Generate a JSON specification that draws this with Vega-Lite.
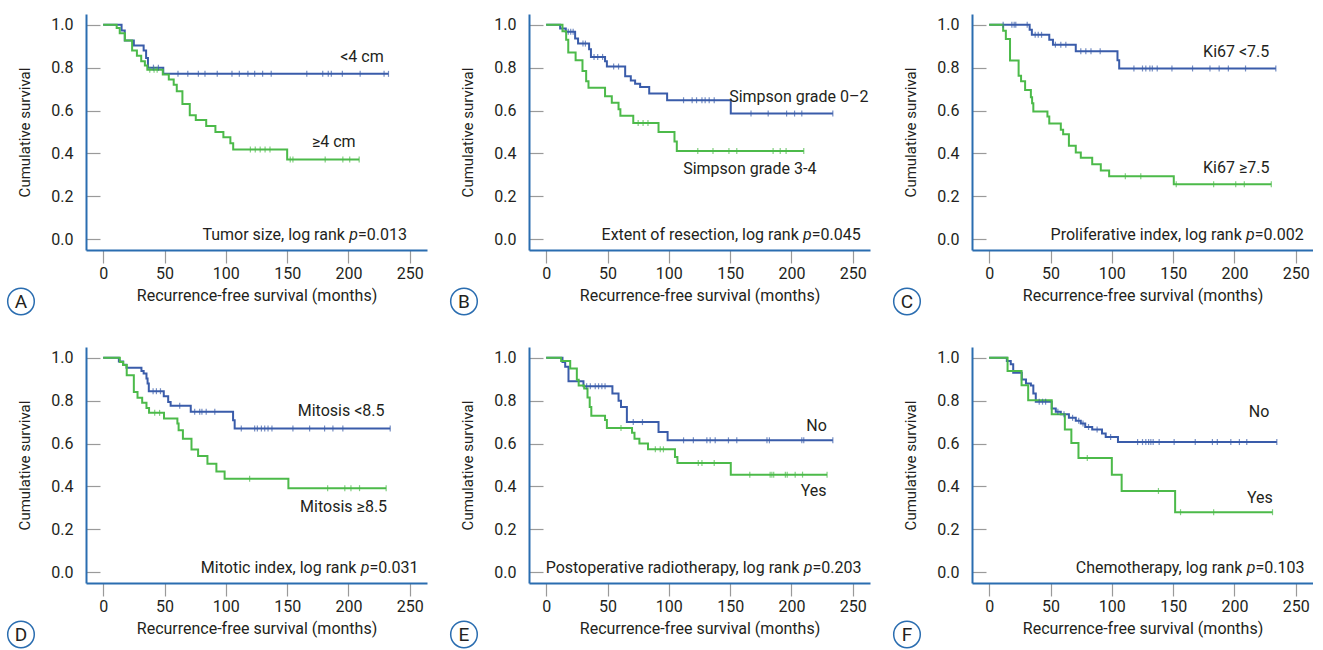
{
"$schema":"https://vega.github.io/schema/vega-lite/v6.json",
"padding":{"left":4,"top":14,"right":0,"bottom":0},
"background":"white",
"config":{
 "font":"Roboto",
 "view":{"stroke":null},
 "axis":{"grid":false,"domainColor":"#2a6db0","domainWidth":2,"tickColor":"#9a9a9a","tickWidth":1.2,"labelFontSize":16,"labelColor":"#231f20","titleFontSize":16,"titleFontWeight":"normal","titleColor":"#231f20","labelFont":"Roboto","titleFont":"Roboto","labelFlush":false},
 "axisX":{"tickSize":13,"labelPadding":2,"titlePadding":6},
 "axisY":{"tickSize":-14,"labelPadding":27,"titlePadding":18,"titleFontSize":15},
 "text":{"fontSize":16,"color":"#231f20","font":"Roboto"}
},
"datasets":{"km":[
{"p":"A","g":"b","t":0,"s":1,"c":0},{"p":"A","g":"b","t":15,"s":0.973,"c":0},{"p":"A","g":"b","t":17.6,"s":0.927,"c":0},{"p":"A","g":"b","t":25,"s":0.903,"c":0},{"p":"A","g":"b","t":33,"s":0.88,"c":0},{"p":"A","g":"b","t":35,"s":0.845,"c":0},{"p":"A","g":"b","t":36.5,"s":0.8,"c":0},{"p":"A","g":"b","t":41,"s":0.8,"c":1},{"p":"A","g":"b","t":45,"s":0.8,"c":1},{"p":"A","g":"b","t":49,"s":0.771,"c":0},
{"p":"A","g":"b","t":61,"s":0.771,"c":1},{"p":"A","g":"b","t":69,"s":0.771,"c":1},{"p":"A","g":"b","t":77.6,"s":0.771,"c":1},{"p":"A","g":"b","t":83,"s":0.771,"c":1},{"p":"A","g":"b","t":93,"s":0.771,"c":1},{"p":"A","g":"b","t":105,"s":0.771,"c":1},{"p":"A","g":"b","t":111,"s":0.771,"c":1},{"p":"A","g":"b","t":118,"s":0.771,"c":1},{"p":"A","g":"b","t":123.5,"s":0.771,"c":1},{"p":"A","g":"b","t":130,"s":0.771,"c":1},{"p":"A","g":"b","t":137,"s":0.771,"c":1},{"p":"A","g":"b","t":166,"s":0.771,"c":1},{"p":"A","g":"b","t":179,"s":0.771,"c":1},{"p":"A","g":"b","t":183.5,"s":0.771,"c":1},{"p":"A","g":"b","t":186,"s":0.771,"c":1},{"p":"A","g":"b","t":195,"s":0.771,"c":1},{"p":"A","g":"b","t":209.5,"s":0.771,"c":1},{"p":"A","g":"b","t":229,"s":0.771,"c":1},{"p":"A","g":"b","t":232.6,"s":0.771,"c":1},
{"p":"A","g":"g","t":0,"s":1,"c":0},{"p":"A","g":"g","t":11,"s":0.985,"c":0},{"p":"A","g":"g","t":13.5,"s":0.96,"c":0},{"p":"A","g":"g","t":17.7,"s":0.927,"c":0},{"p":"A","g":"g","t":23.6,"s":0.88,"c":0},{"p":"A","g":"g","t":27.5,"s":0.855,"c":0},{"p":"A","g":"g","t":31,"s":0.83,"c":0},{"p":"A","g":"g","t":34,"s":0.81,"c":0},{"p":"A","g":"g","t":36,"s":0.79,"c":0},{"p":"A","g":"g","t":38,"s":0.79,"c":1},{"p":"A","g":"g","t":41.5,"s":0.79,"c":1},{"p":"A","g":"g","t":44,"s":0.79,"c":1},{"p":"A","g":"g","t":48.6,"s":0.768,"c":0},{"p":"A","g":"g","t":53.5,"s":0.745,"c":0},{"p":"A","g":"g","t":57.5,"s":0.72,"c":0},{"p":"A","g":"g","t":60,"s":0.69,"c":0},{"p":"A","g":"g","t":64.6,"s":0.63,"c":0},{"p":"A","g":"g","t":70.6,"s":0.578,"c":0},{"p":"A","g":"g","t":75.5,"s":0.556,"c":0},{"p":"A","g":"g","t":84,"s":0.528,"c":0},{"p":"A","g":"g","t":91.5,"s":0.5,"c":0},{"p":"A","g":"g","t":98,"s":0.475,"c":0},{"p":"A","g":"g","t":103.7,"s":0.447,"c":0},{"p":"A","g":"g","t":106,"s":0.419,"c":0},{"p":"A","g":"g","t":120,"s":0.419,"c":1},{"p":"A","g":"g","t":124,"s":0.419,"c":1},{"p":"A","g":"g","t":128,"s":0.419,"c":1},{"p":"A","g":"g","t":132,"s":0.419,"c":1},{"p":"A","g":"g","t":136,"s":0.419,"c":1},{"p":"A","g":"g","t":150,"s":0.372,"c":0},{"p":"A","g":"g","t":152.5,"s":0.372,"c":1},{"p":"A","g":"g","t":154.7,"s":0.372,"c":1},{"p":"A","g":"g","t":181,"s":0.372,"c":1},{"p":"A","g":"g","t":195.4,"s":0.372,"c":1},{"p":"A","g":"g","t":201,"s":0.372,"c":1},{"p":"A","g":"g","t":208.7,"s":0.372,"c":1},
{"p":"B","g":"b","t":0,"s":1,"c":0},{"p":"B","g":"b","t":11.4,"s":0.983,"c":0},{"p":"B","g":"b","t":16,"s":0.967,"c":0},{"p":"B","g":"b","t":18,"s":0.967,"c":1},{"p":"B","g":"b","t":20,"s":0.967,"c":1},{"p":"B","g":"b","t":22,"s":0.967,"c":1},{"p":"B","g":"b","t":23.6,"s":0.936,"c":0},{"p":"B","g":"b","t":26,"s":0.912,"c":0},{"p":"B","g":"b","t":30,"s":0.912,"c":1},{"p":"B","g":"b","t":32,"s":0.912,"c":1},{"p":"B","g":"b","t":35,"s":0.886,"c":0},{"p":"B","g":"b","t":36.5,"s":0.85,"c":0},{"p":"B","g":"b","t":39,"s":0.85,"c":1},{"p":"B","g":"b","t":42,"s":0.85,"c":1},{"p":"B","g":"b","t":46,"s":0.85,"c":1},{"p":"B","g":"b","t":48,"s":0.83,"c":0},{"p":"B","g":"b","t":49.5,"s":0.805,"c":0},{"p":"B","g":"b","t":55,"s":0.805,"c":1},{"p":"B","g":"b","t":59,"s":0.805,"c":1},{"p":"B","g":"b","t":64.4,"s":0.76,"c":0},{"p":"B","g":"b","t":69,"s":0.74,"c":0},{"p":"B","g":"b","t":72.5,"s":0.725,"c":0},{"p":"B","g":"b","t":76.6,"s":0.71,"c":0},{"p":"B","g":"b","t":84,"s":0.68,"c":0},{"p":"B","g":"b","t":98.6,"s":0.648,"c":0},{"p":"B","g":"b","t":112,"s":0.648,"c":1},{"p":"B","g":"b","t":119,"s":0.648,"c":1},{"p":"B","g":"b","t":122.6,"s":0.648,"c":1},{"p":"B","g":"b","t":127,"s":0.648,"c":1},{"p":"B","g":"b","t":129.6,"s":0.648,"c":1},{"p":"B","g":"b","t":132.9,"s":0.648,"c":1},{"p":"B","g":"b","t":137,"s":0.648,"c":1},{"p":"B","g":"b","t":150.5,"s":0.586,"c":0},{"p":"B","g":"b","t":167,"s":0.586,"c":1},{"p":"B","g":"b","t":181,"s":0.586,"c":1},{"p":"B","g":"b","t":196,"s":0.586,"c":1},{"p":"B","g":"b","t":202.5,"s":0.586,"c":1},{"p":"B","g":"b","t":208.4,"s":0.586,"c":1},{"p":"B","g":"b","t":233.7,"s":0.586,"c":1},
{"p":"B","g":"g","t":0,"s":1,"c":0},{"p":"B","g":"g","t":13.3,"s":0.97,"c":0},{"p":"B","g":"g","t":16.3,"s":0.93,"c":0},{"p":"B","g":"g","t":18,"s":0.87,"c":0},{"p":"B","g":"g","t":24,"s":0.834,"c":0},{"p":"B","g":"g","t":29.6,"s":0.784,"c":0},{"p":"B","g":"g","t":32.6,"s":0.737,"c":0},{"p":"B","g":"g","t":34.5,"s":0.706,"c":0},{"p":"B","g":"g","t":48,"s":0.667,"c":0},{"p":"B","g":"g","t":53.5,"s":0.636,"c":0},{"p":"B","g":"g","t":59,"s":0.606,"c":0},{"p":"B","g":"g","t":60.5,"s":0.576,"c":0},{"p":"B","g":"g","t":71,"s":0.542,"c":0},{"p":"B","g":"g","t":75,"s":0.542,"c":1},{"p":"B","g":"g","t":79,"s":0.542,"c":1},{"p":"B","g":"g","t":83,"s":0.542,"c":1},{"p":"B","g":"g","t":91.6,"s":0.5,"c":0},{"p":"B","g":"g","t":104.6,"s":0.456,"c":0},{"p":"B","g":"g","t":106.5,"s":0.412,"c":0},{"p":"B","g":"g","t":123.6,"s":0.412,"c":1},{"p":"B","g":"g","t":136,"s":0.412,"c":1},{"p":"B","g":"g","t":149,"s":0.412,"c":1},{"p":"B","g":"g","t":155.4,"s":0.412,"c":1},{"p":"B","g":"g","t":185,"s":0.412,"c":1},{"p":"B","g":"g","t":190.8,"s":0.412,"c":1},{"p":"B","g":"g","t":195.6,"s":0.412,"c":1},{"p":"B","g":"g","t":210,"s":0.412,"c":1},
{"p":"C","g":"b","t":0,"s":1,"c":0},{"p":"C","g":"b","t":11.4,"s":1,"c":1},{"p":"C","g":"b","t":18.5,"s":1,"c":1},{"p":"C","g":"b","t":20.4,"s":1,"c":1},{"p":"C","g":"b","t":21.7,"s":1,"c":1},{"p":"C","g":"b","t":31,"s":1,"c":1},{"p":"C","g":"b","t":33,"s":0.977,"c":0},{"p":"C","g":"b","t":34.8,"s":0.953,"c":0},{"p":"C","g":"b","t":37.5,"s":0.953,"c":1},{"p":"C","g":"b","t":40,"s":0.953,"c":1},{"p":"C","g":"b","t":42.7,"s":0.953,"c":1},{"p":"C","g":"b","t":49,"s":0.93,"c":0},{"p":"C","g":"b","t":52,"s":0.907,"c":0},{"p":"C","g":"b","t":54,"s":0.907,"c":1},{"p":"C","g":"b","t":58.4,"s":0.907,"c":1},{"p":"C","g":"b","t":62.5,"s":0.907,"c":1},{"p":"C","g":"b","t":70.6,"s":0.876,"c":0},{"p":"C","g":"b","t":74.7,"s":0.876,"c":1},{"p":"C","g":"b","t":78.8,"s":0.876,"c":1},{"p":"C","g":"b","t":83,"s":0.876,"c":1},{"p":"C","g":"b","t":90.5,"s":0.876,"c":1},{"p":"C","g":"b","t":104.6,"s":0.834,"c":0},{"p":"C","g":"b","t":106,"s":0.796,"c":0},{"p":"C","g":"b","t":118,"s":0.796,"c":1},{"p":"C","g":"b","t":125,"s":0.796,"c":1},{"p":"C","g":"b","t":127.7,"s":0.796,"c":1},{"p":"C","g":"b","t":131,"s":0.796,"c":1},{"p":"C","g":"b","t":133,"s":0.796,"c":1},{"p":"C","g":"b","t":137,"s":0.796,"c":1},{"p":"C","g":"b","t":149,"s":0.796,"c":1},{"p":"C","g":"b","t":165.8,"s":0.796,"c":1},{"p":"C","g":"b","t":180,"s":0.796,"c":1},{"p":"C","g":"b","t":187.5,"s":0.796,"c":1},{"p":"C","g":"b","t":195,"s":0.796,"c":1},{"p":"C","g":"b","t":209,"s":0.796,"c":1},{"p":"C","g":"b","t":233.7,"s":0.796,"c":1},
{"p":"C","g":"g","t":0,"s":1,"c":0},{"p":"C","g":"g","t":11.4,"s":0.972,"c":0},{"p":"C","g":"g","t":13.6,"s":0.933,"c":0},{"p":"C","g":"g","t":17,"s":0.833,"c":0},{"p":"C","g":"g","t":24,"s":0.762,"c":0},{"p":"C","g":"g","t":26,"s":0.736,"c":0},{"p":"C","g":"g","t":29.3,"s":0.696,"c":0},{"p":"C","g":"g","t":34,"s":0.662,"c":0},{"p":"C","g":"g","t":35,"s":0.634,"c":0},{"p":"C","g":"g","t":36,"s":0.595,"c":0},{"p":"C","g":"g","t":47.5,"s":0.572,"c":0},{"p":"C","g":"g","t":49,"s":0.54,"c":0},{"p":"C","g":"g","t":58.4,"s":0.51,"c":0},{"p":"C","g":"g","t":60.3,"s":0.49,"c":0},{"p":"C","g":"g","t":65,"s":0.436,"c":0},{"p":"C","g":"g","t":70.6,"s":0.405,"c":0},{"p":"C","g":"g","t":74.7,"s":0.38,"c":0},{"p":"C","g":"g","t":84,"s":0.35,"c":0},{"p":"C","g":"g","t":91,"s":0.32,"c":0},{"p":"C","g":"g","t":97.8,"s":0.294,"c":0},{"p":"C","g":"g","t":111,"s":0.294,"c":1},{"p":"C","g":"g","t":123.6,"s":0.294,"c":1},{"p":"C","g":"g","t":150.5,"s":0.256,"c":0},{"p":"C","g":"g","t":152.5,"s":0.256,"c":1},{"p":"C","g":"g","t":183,"s":0.256,"c":1},{"p":"C","g":"g","t":201,"s":0.256,"c":1},{"p":"C","g":"g","t":208,"s":0.256,"c":1},{"p":"C","g":"g","t":230,"s":0.256,"c":1},
{"p":"D","g":"b","t":0,"s":1,"c":0},{"p":"D","g":"b","t":12.8,"s":0.983,"c":0},{"p":"D","g":"b","t":16.3,"s":0.967,"c":0},{"p":"D","g":"b","t":19,"s":0.953,"c":0},{"p":"D","g":"b","t":31.2,"s":0.938,"c":0},{"p":"D","g":"b","t":33,"s":0.927,"c":0},{"p":"D","g":"b","t":35.3,"s":0.903,"c":0},{"p":"D","g":"b","t":36.2,"s":0.88,"c":0},{"p":"D","g":"b","t":37.2,"s":0.844,"c":0},{"p":"D","g":"b","t":40.7,"s":0.844,"c":1},{"p":"D","g":"b","t":43.4,"s":0.844,"c":1},{"p":"D","g":"b","t":46.7,"s":0.844,"c":1},{"p":"D","g":"b","t":49.4,"s":0.821,"c":0},{"p":"D","g":"b","t":53,"s":0.794,"c":0},{"p":"D","g":"b","t":55,"s":0.776,"c":0},{"p":"D","g":"b","t":62.4,"s":0.776,"c":1},{"p":"D","g":"b","t":71.4,"s":0.748,"c":0},{"p":"D","g":"b","t":74.6,"s":0.748,"c":1},{"p":"D","g":"b","t":78.7,"s":0.748,"c":1},{"p":"D","g":"b","t":80.5,"s":0.748,"c":1},{"p":"D","g":"b","t":84,"s":0.748,"c":1},{"p":"D","g":"b","t":91,"s":0.748,"c":1},{"p":"D","g":"b","t":105.9,"s":0.709,"c":0},{"p":"D","g":"b","t":107.2,"s":0.67,"c":0},{"p":"D","g":"b","t":112.6,"s":0.67,"c":1},{"p":"D","g":"b","t":123.5,"s":0.67,"c":1},{"p":"D","g":"b","t":125.7,"s":0.67,"c":1},{"p":"D","g":"b","t":129,"s":0.67,"c":1},{"p":"D","g":"b","t":131.7,"s":0.67,"c":1},{"p":"D","g":"b","t":134.4,"s":0.67,"c":1},{"p":"D","g":"b","t":137.6,"s":0.67,"c":1},{"p":"D","g":"b","t":154.7,"s":0.67,"c":1},{"p":"D","g":"b","t":168.3,"s":0.67,"c":1},{"p":"D","g":"b","t":180.5,"s":0.67,"c":1},{"p":"D","g":"b","t":187.3,"s":0.67,"c":1},{"p":"D","g":"b","t":195.4,"s":0.67,"c":1},{"p":"D","g":"b","t":234,"s":0.67,"c":1},
{"p":"D","g":"g","t":0,"s":1,"c":0},{"p":"D","g":"g","t":13.6,"s":0.98,"c":0},{"p":"D","g":"g","t":16.3,"s":0.966,"c":0},{"p":"D","g":"g","t":19.2,"s":0.918,"c":0},{"p":"D","g":"g","t":25,"s":0.84,"c":0},{"p":"D","g":"g","t":28,"s":0.814,"c":0},{"p":"D","g":"g","t":31.8,"s":0.79,"c":0},{"p":"D","g":"g","t":35.3,"s":0.766,"c":0},{"p":"D","g":"g","t":37.4,"s":0.743,"c":0},{"p":"D","g":"g","t":42,"s":0.743,"c":1},{"p":"D","g":"g","t":46,"s":0.743,"c":1},{"p":"D","g":"g","t":49.6,"s":0.717,"c":0},{"p":"D","g":"g","t":60.5,"s":0.693,"c":0},{"p":"D","g":"g","t":61.5,"s":0.662,"c":0},{"p":"D","g":"g","t":65,"s":0.622,"c":0},{"p":"D","g":"g","t":72,"s":0.572,"c":0},{"p":"D","g":"g","t":77.4,"s":0.542,"c":0},{"p":"D","g":"g","t":85,"s":0.506,"c":0},{"p":"D","g":"g","t":92.3,"s":0.47,"c":0},{"p":"D","g":"g","t":99,"s":0.436,"c":0},{"p":"D","g":"g","t":119.4,"s":0.436,"c":1},{"p":"D","g":"g","t":151,"s":0.392,"c":0},{"p":"D","g":"g","t":183,"s":0.392,"c":1},{"p":"D","g":"g","t":197,"s":0.392,"c":1},{"p":"D","g":"g","t":202,"s":0.392,"c":1},{"p":"D","g":"g","t":209,"s":0.392,"c":1},{"p":"D","g":"g","t":230.7,"s":0.392,"c":1},
{"p":"E","g":"b","t":0,"s":1,"c":0},{"p":"E","g":"b","t":13.3,"s":0.98,"c":0},{"p":"E","g":"b","t":15.5,"s":0.958,"c":0},{"p":"E","g":"b","t":18.2,"s":0.89,"c":0},{"p":"E","g":"b","t":30.4,"s":0.867,"c":0},{"p":"E","g":"b","t":33,"s":0.867,"c":1},{"p":"E","g":"b","t":36,"s":0.867,"c":1},{"p":"E","g":"b","t":40,"s":0.867,"c":1},{"p":"E","g":"b","t":42.7,"s":0.867,"c":1},{"p":"E","g":"b","t":45.4,"s":0.867,"c":1},{"p":"E","g":"b","t":48,"s":0.867,"c":1},{"p":"E","g":"b","t":54,"s":0.833,"c":0},{"p":"E","g":"b","t":59,"s":0.8,"c":0},{"p":"E","g":"b","t":61,"s":0.77,"c":0},{"p":"E","g":"b","t":65.8,"s":0.7,"c":0},{"p":"E","g":"b","t":71,"s":0.7,"c":1},{"p":"E","g":"b","t":78.5,"s":0.7,"c":1},{"p":"E","g":"b","t":91.6,"s":0.654,"c":0},{"p":"E","g":"b","t":99,"s":0.615,"c":0},{"p":"E","g":"b","t":112,"s":0.615,"c":1},{"p":"E","g":"b","t":120,"s":0.615,"c":1},{"p":"E","g":"b","t":131,"s":0.615,"c":1},{"p":"E","g":"b","t":133.7,"s":0.615,"c":1},{"p":"E","g":"b","t":137.8,"s":0.615,"c":1},{"p":"E","g":"b","t":148.6,"s":0.615,"c":1},{"p":"E","g":"b","t":155.4,"s":0.615,"c":1},{"p":"E","g":"b","t":180,"s":0.615,"c":1},{"p":"E","g":"b","t":182,"s":0.615,"c":1},{"p":"E","g":"b","t":208.4,"s":0.615,"c":1},{"p":"E","g":"b","t":210,"s":0.615,"c":1},{"p":"E","g":"b","t":233.7,"s":0.615,"c":1},
{"p":"E","g":"g","t":0,"s":1,"c":0},{"p":"E","g":"g","t":12.2,"s":0.985,"c":0},{"p":"E","g":"g","t":19.6,"s":0.95,"c":0},{"p":"E","g":"g","t":25,"s":0.897,"c":0},{"p":"E","g":"g","t":26.5,"s":0.87,"c":0},{"p":"E","g":"g","t":31,"s":0.857,"c":0},{"p":"E","g":"g","t":33.7,"s":0.815,"c":0},{"p":"E","g":"g","t":35.5,"s":0.77,"c":0},{"p":"E","g":"g","t":36.8,"s":0.73,"c":0},{"p":"E","g":"g","t":48,"s":0.71,"c":0},{"p":"E","g":"g","t":49.5,"s":0.672,"c":0},{"p":"E","g":"g","t":61,"s":0.672,"c":1},{"p":"E","g":"g","t":70,"s":0.65,"c":0},{"p":"E","g":"g","t":72,"s":0.622,"c":0},{"p":"E","g":"g","t":76,"s":0.6,"c":0},{"p":"E","g":"g","t":83,"s":0.573,"c":0},{"p":"E","g":"g","t":89,"s":0.573,"c":1},{"p":"E","g":"g","t":93,"s":0.573,"c":1},{"p":"E","g":"g","t":95.6,"s":0.573,"c":1},{"p":"E","g":"g","t":105,"s":0.537,"c":0},{"p":"E","g":"g","t":107,"s":0.509,"c":0},{"p":"E","g":"g","t":124,"s":0.509,"c":1},{"p":"E","g":"g","t":127,"s":0.509,"c":1},{"p":"E","g":"g","t":137,"s":0.509,"c":1},{"p":"E","g":"g","t":150.5,"s":0.455,"c":0},{"p":"E","g":"g","t":166,"s":0.455,"c":1},{"p":"E","g":"g","t":182.6,"s":0.455,"c":1},{"p":"E","g":"g","t":184,"s":0.455,"c":1},{"p":"E","g":"g","t":185.5,"s":0.455,"c":1},{"p":"E","g":"g","t":195,"s":0.455,"c":1},{"p":"E","g":"g","t":196.5,"s":0.455,"c":1},{"p":"E","g":"g","t":203,"s":0.455,"c":1},{"p":"E","g":"g","t":209,"s":0.455,"c":1},{"p":"E","g":"g","t":229,"s":0.455,"c":1},
{"p":"F","g":"b","t":0,"s":1,"c":0},{"p":"F","g":"b","t":14.4,"s":0.985,"c":0},{"p":"F","g":"b","t":17.6,"s":0.97,"c":0},{"p":"F","g":"b","t":19.6,"s":0.93,"c":0},{"p":"F","g":"b","t":26.6,"s":0.898,"c":0},{"p":"F","g":"b","t":30,"s":0.88,"c":0},{"p":"F","g":"b","t":34,"s":0.87,"c":0},{"p":"F","g":"b","t":36,"s":0.833,"c":0},{"p":"F","g":"b","t":38,"s":0.795,"c":0},{"p":"F","g":"b","t":40.8,"s":0.795,"c":1},{"p":"F","g":"b","t":43.5,"s":0.795,"c":1},{"p":"F","g":"b","t":46,"s":0.795,"c":1},{"p":"F","g":"b","t":51,"s":0.763,"c":0},{"p":"F","g":"b","t":54.3,"s":0.748,"c":0},{"p":"F","g":"b","t":56,"s":0.748,"c":1},{"p":"F","g":"b","t":58.4,"s":0.737,"c":0},{"p":"F","g":"b","t":61,"s":0.737,"c":1},{"p":"F","g":"b","t":65,"s":0.72,"c":0},{"p":"F","g":"b","t":68,"s":0.72,"c":1},{"p":"F","g":"b","t":70.6,"s":0.706,"c":0},{"p":"F","g":"b","t":73,"s":0.706,"c":1},{"p":"F","g":"b","t":74.7,"s":0.693,"c":0},{"p":"F","g":"b","t":76.5,"s":0.693,"c":1},{"p":"F","g":"b","t":78.3,"s":0.677,"c":0},{"p":"F","g":"b","t":81,"s":0.677,"c":1},{"p":"F","g":"b","t":84,"s":0.665,"c":0},{"p":"F","g":"b","t":88,"s":0.665,"c":1},{"p":"F","g":"b","t":92,"s":0.647,"c":0},{"p":"F","g":"b","t":95,"s":0.63,"c":0},{"p":"F","g":"b","t":99,"s":0.63,"c":1},{"p":"F","g":"b","t":105,"s":0.607,"c":0},{"p":"F","g":"b","t":121,"s":0.607,"c":1},{"p":"F","g":"b","t":125,"s":0.607,"c":1},{"p":"F","g":"b","t":127.7,"s":0.607,"c":1},{"p":"F","g":"b","t":130,"s":0.607,"c":1},{"p":"F","g":"b","t":131.8,"s":0.607,"c":1},{"p":"F","g":"b","t":133.7,"s":0.607,"c":1},{"p":"F","g":"b","t":138.6,"s":0.607,"c":1},{"p":"F","g":"b","t":150.8,"s":0.607,"c":1},{"p":"F","g":"b","t":168,"s":0.607,"c":1},{"p":"F","g":"b","t":182,"s":0.607,"c":1},{"p":"F","g":"b","t":186,"s":0.607,"c":1},{"p":"F","g":"b","t":197,"s":0.607,"c":1},{"p":"F","g":"b","t":204,"s":0.607,"c":1},{"p":"F","g":"b","t":210,"s":0.607,"c":1},{"p":"F","g":"b","t":234.5,"s":0.607,"c":1},
{"p":"F","g":"g","t":0,"s":1,"c":0},{"p":"F","g":"g","t":15,"s":0.938,"c":0},{"p":"F","g":"g","t":26.4,"s":0.872,"c":0},{"p":"F","g":"g","t":31.8,"s":0.802,"c":0},{"p":"F","g":"g","t":51,"s":0.737,"c":0},{"p":"F","g":"g","t":61.7,"s":0.665,"c":0},{"p":"F","g":"g","t":67,"s":0.602,"c":0},{"p":"F","g":"g","t":72.8,"s":0.533,"c":0},{"p":"F","g":"g","t":80,"s":0.533,"c":1},{"p":"F","g":"g","t":100,"s":0.455,"c":0},{"p":"F","g":"g","t":108,"s":0.379,"c":0},{"p":"F","g":"g","t":138,"s":0.379,"c":1},{"p":"F","g":"g","t":151.6,"s":0.28,"c":0},{"p":"F","g":"g","t":156,"s":0.28,"c":1},{"p":"F","g":"g","t":183,"s":0.28,"c":1},{"p":"F","g":"g","t":231,"s":0.28,"c":1}
]},
"columns":3,
"spacing":{"row":29,"column":20},
"concat":[
{"width":341,"height":236,"data":{"name":"km"},"transform":[{"filter":"datum.p==='A'"}],"layer":[
 {"mark":{"type":"line","interpolate":"step-after","strokeWidth":2},"encoding":{"x":{"field":"t","type":"quantitative","scale":{"domain":[-14,264],"nice":false,"zero":false},"axis":{"values":[0,50,100,150,200,250]},"title":"Recurrence-free survival (months)"},"y":{"field":"s","type":"quantitative","scale":{"domain":[-0.05,1.05],"nice":false,"zero":false},"axis":{"values":[0,0.2,0.4,0.6,0.8,1],"format":".1f"},"title":"Cumulative survival"},"color":{"field":"g","type":"nominal","scale":{"domain":["b","g"],"range":["#3a5caa","#4cba4a"]},"legend":null}}},
 {"transform":[{"filter":"datum.c===1"}],"mark":{"type":"tick","orient":"vertical","size":6,"thickness":1.2},"encoding":{"x":{"field":"t","type":"quantitative"},"y":{"field":"s","type":"quantitative"},"color":{"field":"g","type":"nominal","legend":null}}},
 {"data":{"values":[{}]},"mark":{"type":"text","align":"center","baseline":"middle"},"encoding":{"x":{"datum":211},"y":{"datum":0.849},"text":{"value":"<4 cm"}}},
 {"data":{"values":[{}]},"mark":{"type":"text","align":"center","baseline":"middle"},"encoding":{"x":{"datum":188},"y":{"datum":0.455},"text":{"value":"≥4 cm"}}},
 {"data":{"values":[{}]},"mark":{"type":"text","align":"right","baseline":"middle"},"encoding":{"x":{"datum":247.6},"y":{"datum":0.022},"text":{"value":"=0.013"}}},
 {"data":{"values":[{}]},"mark":{"type":"text","align":"right","baseline":"middle","fontStyle":"italic","dx":-49},"encoding":{"x":{"datum":247.6},"y":{"datum":0.022},"text":{"value":"p"}}},
 {"data":{"values":[{}]},"mark":{"type":"text","align":"right","baseline":"middle","dx":-62},"encoding":{"x":{"datum":247.6},"y":{"datum":0.022},"text":{"value":"Tumor size, log rank"}}},
 {"data":{"values":[{}]},"mark":{"type":"point","shape":"circle","size":707,"stroke":"#2a6db0","strokeWidth":1.5,"fill":"white","filled":false,"opacity":1},"encoding":{"x":{"datum":-67},"y":{"datum":-0.29}}},
 {"data":{"values":[{}]},"mark":{"type":"text","align":"center","baseline":"middle","fontSize":19,"dy":1},"encoding":{"x":{"datum":-67},"y":{"datum":-0.29},"text":{"value":"A"}}}
]},
{"width":341,"height":236,"data":{"name":"km"},"transform":[{"filter":"datum.p==='B'"}],"layer":[
 {"mark":{"type":"line","interpolate":"step-after","strokeWidth":2},"encoding":{"x":{"field":"t","type":"quantitative","scale":{"domain":[-14,264],"nice":false,"zero":false},"axis":{"values":[0,50,100,150,200,250]},"title":"Recurrence-free survival (months)"},"y":{"field":"s","type":"quantitative","scale":{"domain":[-0.05,1.05],"nice":false,"zero":false},"axis":{"values":[0,0.2,0.4,0.6,0.8,1],"format":".1f"},"title":"Cumulative survival"},"color":{"field":"g","type":"nominal","scale":{"domain":["b","g"],"range":["#3a5caa","#4cba4a"]},"legend":null}}},
 {"transform":[{"filter":"datum.c===1"}],"mark":{"type":"tick","orient":"vertical","size":6,"thickness":1.2},"encoding":{"x":{"field":"t","type":"quantitative"},"y":{"field":"s","type":"quantitative"},"color":{"field":"g","type":"nominal","legend":null}}},
 {"data":{"values":[{}]},"mark":{"type":"text","align":"center","baseline":"middle"},"encoding":{"x":{"datum":206},"y":{"datum":0.662},"text":{"value":"Simpson grade 0–2"}}},
 {"data":{"values":[{}]},"mark":{"type":"text","align":"center","baseline":"middle"},"encoding":{"x":{"datum":166},"y":{"datum":0.326},"text":{"value":"Simpson grade 3-4"}}},
 {"data":{"values":[{}]},"mark":{"type":"text","align":"right","baseline":"middle"},"encoding":{"x":{"datum":256.5},"y":{"datum":0.022},"text":{"value":"=0.045"}}},
 {"data":{"values":[{}]},"mark":{"type":"text","align":"right","baseline":"middle","fontStyle":"italic","dx":-49},"encoding":{"x":{"datum":256.5},"y":{"datum":0.022},"text":{"value":"p"}}},
 {"data":{"values":[{}]},"mark":{"type":"text","align":"right","baseline":"middle","dx":-62},"encoding":{"x":{"datum":256.5},"y":{"datum":0.022},"text":{"value":"Extent of resection, log rank"}}},
 {"data":{"values":[{}]},"mark":{"type":"point","shape":"circle","size":707,"stroke":"#2a6db0","strokeWidth":1.5,"fill":"white","filled":false,"opacity":1},"encoding":{"x":{"datum":-67},"y":{"datum":-0.29}}},
 {"data":{"values":[{}]},"mark":{"type":"text","align":"center","baseline":"middle","fontSize":19,"dy":1},"encoding":{"x":{"datum":-67},"y":{"datum":-0.29},"text":{"value":"B"}}}
]},
{"width":341,"height":236,"data":{"name":"km"},"transform":[{"filter":"datum.p==='C'"}],"layer":[
 {"mark":{"type":"line","interpolate":"step-after","strokeWidth":2},"encoding":{"x":{"field":"t","type":"quantitative","scale":{"domain":[-14,264],"nice":false,"zero":false},"axis":{"values":[0,50,100,150,200,250]},"title":"Recurrence-free survival (months)"},"y":{"field":"s","type":"quantitative","scale":{"domain":[-0.05,1.05],"nice":false,"zero":false},"axis":{"values":[0,0.2,0.4,0.6,0.8,1],"format":".1f"},"title":"Cumulative survival"},"color":{"field":"g","type":"nominal","scale":{"domain":["b","g"],"range":["#3a5caa","#4cba4a"]},"legend":null}}},
 {"transform":[{"filter":"datum.c===1"}],"mark":{"type":"tick","orient":"vertical","size":6,"thickness":1.2},"encoding":{"x":{"field":"t","type":"quantitative"},"y":{"field":"s","type":"quantitative"},"color":{"field":"g","type":"nominal","legend":null}}},
 {"data":{"values":[{}]},"mark":{"type":"text","align":"center","baseline":"middle"},"encoding":{"x":{"datum":201.4},"y":{"datum":0.875},"text":{"value":"Ki67 <7.5"}}},
 {"data":{"values":[{}]},"mark":{"type":"text","align":"center","baseline":"middle"},"encoding":{"x":{"datum":201.4},"y":{"datum":0.333},"text":{"value":"Ki67 ≥7.5"}}},
 {"data":{"values":[{}]},"mark":{"type":"text","align":"right","baseline":"middle"},"encoding":{"x":{"datum":256.5},"y":{"datum":0.022},"text":{"value":"=0.002"}}},
 {"data":{"values":[{}]},"mark":{"type":"text","align":"right","baseline":"middle","fontStyle":"italic","dx":-49},"encoding":{"x":{"datum":256.5},"y":{"datum":0.022},"text":{"value":"p"}}},
 {"data":{"values":[{}]},"mark":{"type":"text","align":"right","baseline":"middle","dx":-62},"encoding":{"x":{"datum":256.5},"y":{"datum":0.022},"text":{"value":"Proliferative index, log rank"}}},
 {"data":{"values":[{}]},"mark":{"type":"point","shape":"circle","size":707,"stroke":"#2a6db0","strokeWidth":1.5,"fill":"white","filled":false,"opacity":1},"encoding":{"x":{"datum":-67},"y":{"datum":-0.29}}},
 {"data":{"values":[{}]},"mark":{"type":"text","align":"center","baseline":"middle","fontSize":19,"dy":1},"encoding":{"x":{"datum":-67},"y":{"datum":-0.29},"text":{"value":"C"}}}
]},
{"width":341,"height":236,"data":{"name":"km"},"transform":[{"filter":"datum.p==='D'"}],"layer":[
 {"mark":{"type":"line","interpolate":"step-after","strokeWidth":2},"encoding":{"x":{"field":"t","type":"quantitative","scale":{"domain":[-14,264],"nice":false,"zero":false},"axis":{"values":[0,50,100,150,200,250]},"title":"Recurrence-free survival (months)"},"y":{"field":"s","type":"quantitative","scale":{"domain":[-0.05,1.05],"nice":false,"zero":false},"axis":{"values":[0,0.2,0.4,0.6,0.8,1],"format":".1f"},"title":"Cumulative survival"},"color":{"field":"g","type":"nominal","scale":{"domain":["b","g"],"range":["#3a5caa","#4cba4a"]},"legend":null}}},
 {"transform":[{"filter":"datum.c===1"}],"mark":{"type":"tick","orient":"vertical","size":6,"thickness":1.2},"encoding":{"x":{"field":"t","type":"quantitative"},"y":{"field":"s","type":"quantitative"},"color":{"field":"g","type":"nominal","legend":null}}},
 {"data":{"values":[{}]},"mark":{"type":"text","align":"center","baseline":"middle"},"encoding":{"x":{"datum":194},"y":{"datum":0.752},"text":{"value":"Mitosis <8.5"}}},
 {"data":{"values":[{}]},"mark":{"type":"text","align":"center","baseline":"middle"},"encoding":{"x":{"datum":196},"y":{"datum":0.304},"text":{"value":"Mitosis ≥8.5"}}},
 {"data":{"values":[{}]},"mark":{"type":"text","align":"right","baseline":"middle"},"encoding":{"x":{"datum":257},"y":{"datum":0.022},"text":{"value":"=0.031"}}},
 {"data":{"values":[{}]},"mark":{"type":"text","align":"right","baseline":"middle","fontStyle":"italic","dx":-49},"encoding":{"x":{"datum":257},"y":{"datum":0.022},"text":{"value":"p"}}},
 {"data":{"values":[{}]},"mark":{"type":"text","align":"right","baseline":"middle","dx":-62},"encoding":{"x":{"datum":257},"y":{"datum":0.022},"text":{"value":"Mitotic index, log rank"}}},
 {"data":{"values":[{}]},"mark":{"type":"point","shape":"circle","size":707,"stroke":"#2a6db0","strokeWidth":1.5,"fill":"white","filled":false,"opacity":1},"encoding":{"x":{"datum":-67},"y":{"datum":-0.29}}},
 {"data":{"values":[{}]},"mark":{"type":"text","align":"center","baseline":"middle","fontSize":19,"dy":1},"encoding":{"x":{"datum":-67},"y":{"datum":-0.29},"text":{"value":"D"}}}
]},
{"width":341,"height":236,"data":{"name":"km"},"transform":[{"filter":"datum.p==='E'"}],"layer":[
 {"mark":{"type":"line","interpolate":"step-after","strokeWidth":2},"encoding":{"x":{"field":"t","type":"quantitative","scale":{"domain":[-14,264],"nice":false,"zero":false},"axis":{"values":[0,50,100,150,200,250]},"title":"Recurrence-free survival (months)"},"y":{"field":"s","type":"quantitative","scale":{"domain":[-0.05,1.05],"nice":false,"zero":false},"axis":{"values":[0,0.2,0.4,0.6,0.8,1],"format":".1f"},"title":"Cumulative survival"},"color":{"field":"g","type":"nominal","scale":{"domain":["b","g"],"range":["#3a5caa","#4cba4a"]},"legend":null}}},
 {"transform":[{"filter":"datum.c===1"}],"mark":{"type":"tick","orient":"vertical","size":6,"thickness":1.2},"encoding":{"x":{"field":"t","type":"quantitative"},"y":{"field":"s","type":"quantitative"},"color":{"field":"g","type":"nominal","legend":null}}},
 {"data":{"values":[{}]},"mark":{"type":"text","align":"center","baseline":"middle"},"encoding":{"x":{"datum":220.4},"y":{"datum":0.68},"text":{"value":"No"}}},
 {"data":{"values":[{}]},"mark":{"type":"text","align":"center","baseline":"middle"},"encoding":{"x":{"datum":218},"y":{"datum":0.381},"text":{"value":"Yes"}}},
 {"data":{"values":[{}]},"mark":{"type":"text","align":"right","baseline":"middle"},"encoding":{"x":{"datum":257},"y":{"datum":0.022},"text":{"value":"=0.203"}}},
 {"data":{"values":[{}]},"mark":{"type":"text","align":"right","baseline":"middle","fontStyle":"italic","dx":-49},"encoding":{"x":{"datum":257},"y":{"datum":0.022},"text":{"value":"p"}}},
 {"data":{"values":[{}]},"mark":{"type":"text","align":"right","baseline":"middle","dx":-62},"encoding":{"x":{"datum":257},"y":{"datum":0.022},"text":{"value":"Postoperative radiotherapy, log rank"}}},
 {"data":{"values":[{}]},"mark":{"type":"point","shape":"circle","size":707,"stroke":"#2a6db0","strokeWidth":1.5,"fill":"white","filled":false,"opacity":1},"encoding":{"x":{"datum":-67},"y":{"datum":-0.29}}},
 {"data":{"values":[{}]},"mark":{"type":"text","align":"center","baseline":"middle","fontSize":19,"dy":1},"encoding":{"x":{"datum":-67},"y":{"datum":-0.29},"text":{"value":"E"}}}
]},
{"width":341,"height":236,"data":{"name":"km"},"transform":[{"filter":"datum.p==='F'"}],"layer":[
 {"mark":{"type":"line","interpolate":"step-after","strokeWidth":2},"encoding":{"x":{"field":"t","type":"quantitative","scale":{"domain":[-14,264],"nice":false,"zero":false},"axis":{"values":[0,50,100,150,200,250]},"title":"Recurrence-free survival (months)"},"y":{"field":"s","type":"quantitative","scale":{"domain":[-0.05,1.05],"nice":false,"zero":false},"axis":{"values":[0,0.2,0.4,0.6,0.8,1],"format":".1f"},"title":"Cumulative survival"},"color":{"field":"g","type":"nominal","scale":{"domain":["b","g"],"range":["#3a5caa","#4cba4a"]},"legend":null}}},
 {"transform":[{"filter":"datum.c===1"}],"mark":{"type":"tick","orient":"vertical","size":6,"thickness":1.2},"encoding":{"x":{"field":"t","type":"quantitative"},"y":{"field":"s","type":"quantitative"},"color":{"field":"g","type":"nominal","legend":null}}},
 {"data":{"values":[{}]},"mark":{"type":"text","align":"center","baseline":"middle"},"encoding":{"x":{"datum":220},"y":{"datum":0.748},"text":{"value":"No"}}},
 {"data":{"values":[{}]},"mark":{"type":"text","align":"center","baseline":"middle"},"encoding":{"x":{"datum":220.7},"y":{"datum":0.347},"text":{"value":"Yes"}}},
 {"data":{"values":[{}]},"mark":{"type":"text","align":"right","baseline":"middle"},"encoding":{"x":{"datum":257},"y":{"datum":0.022},"text":{"value":"=0.103"}}},
 {"data":{"values":[{}]},"mark":{"type":"text","align":"right","baseline":"middle","fontStyle":"italic","dx":-49},"encoding":{"x":{"datum":257},"y":{"datum":0.022},"text":{"value":"p"}}},
 {"data":{"values":[{}]},"mark":{"type":"text","align":"right","baseline":"middle","dx":-62},"encoding":{"x":{"datum":257},"y":{"datum":0.022},"text":{"value":"Chemotherapy, log rank"}}},
 {"data":{"values":[{}]},"mark":{"type":"point","shape":"circle","size":707,"stroke":"#2a6db0","strokeWidth":1.5,"fill":"white","filled":false,"opacity":1},"encoding":{"x":{"datum":-67},"y":{"datum":-0.29}}},
 {"data":{"values":[{}]},"mark":{"type":"text","align":"center","baseline":"middle","fontSize":19,"dy":1},"encoding":{"x":{"datum":-67},"y":{"datum":-0.29},"text":{"value":"F"}}}
]}
]
}
